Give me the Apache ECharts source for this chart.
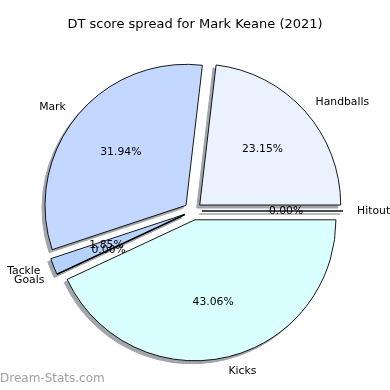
<!DOCTYPE html>
<html>
<head>
<meta charset="utf-8">
<script src="https://cdn.jsdelivr.net/npm/echarts@6/dist/echarts.min.js"></script>
<style>html,body{margin:0;padding:0;background:#fff}#c{width:390px;height:390px}</style>
</head>
<body>
<div id="c"></div>
<script>
const categories = ['Handballs', 'Mark', 'Tackle', 'Goals', 'Kicks', 'Hitout'];
const values = [50, 69, 4, 0, 93, 0];
const colors = ['#eaf1ff', '#c4d8ff', '#b4d2fb', '#c0d0f0', '#d9ffff', '#e0e8ff'];
const titleText = 'DT score spread for Mark Keane (2021)';
const watermark = 'Dream-Stats.com';

const FONT = 'DejaVu Sans';
const CENTER = [193, 211];
const SHADOW_CENTER = [190, 214];
const R = 141;
const OFFSET = 9;
const SHADOW_COLOR = '#a2a5aa';

function sliceData(kind) {
  return categories.map((name, i) => {
    let st;
    if (kind === 'label') st = { color: 'rgba(0,0,0,0)', borderWidth: 0 };
    else if (kind === 'shadow') st = { color: SHADOW_COLOR, borderColor: SHADOW_COLOR, borderWidth: 1 };
    else st = { color: colors[i], borderColor: '#000', borderWidth: 0.9 };
    return { name: name, value: values[i], selected: true, itemStyle: st, select: { itemStyle: st } };
  });
}

function pieBase(center, radius, kind) {
  return {
    type: 'pie',
    center: center,
    radius: radius,
    startAngle: 0,
    clockwise: false,
    selectedMode: 'multiple',
    selectedOffset: OFFSET,
    avoidLabelOverlap: false,
    silent: true,
    minShowLabelAngle: -1,
    labelLayout: { hideOverlap: false },
    emphasis: { disabled: true },
    labelLine: { show: false },
    label: { show: false },
    data: sliceData(kind)
  };
}

const shadowSeries = pieBase(SHADOW_CENTER, [0, R], 'shadow');
shadowSeries.z = 1;

const mainSeries = pieBase(CENTER, [0, R], 'main');
mainSeries.z = 2;
mainSeries.label = {
  show: true, position: 'outside', distanceToLabelLine: 0,
  fontFamily: FONT, fontSize: 10.8, color: '#000', formatter: '{b}'
};
mainSeries.labelLine = { show: false, length: R * 0.1, length2: 0 };

const pctSeries = pieBase(CENTER, [R * 0.15, R], 'label');
pctSeries.z = 3;
pctSeries.label = {
  show: true, position: 'inner',
  fontFamily: FONT, fontSize: 10.8, color: '#000',
  formatter: p => p.percent.toFixed(2) + '%'
};

const chart = echarts.init(document.getElementById('c'), null, { renderer: 'canvas' });
chart.setOption({
  animation: false,
  backgroundColor: '#fff',
  title: [
    { text: titleText, left: 'center', top: 18, padding: 0,
      textStyle: { fontFamily: FONT, fontSize: 13, fontWeight: 'normal', color: '#000' } },
    { text: watermark, left: 0, top: 373, padding: 0,
      textStyle: { fontFamily: FONT, fontSize: 12, fontWeight: 'normal', color: '#a0a0a0' } }
  ],
  series: [shadowSeries, mainSeries, pctSeries]
});
</script>
</body>
</html>
